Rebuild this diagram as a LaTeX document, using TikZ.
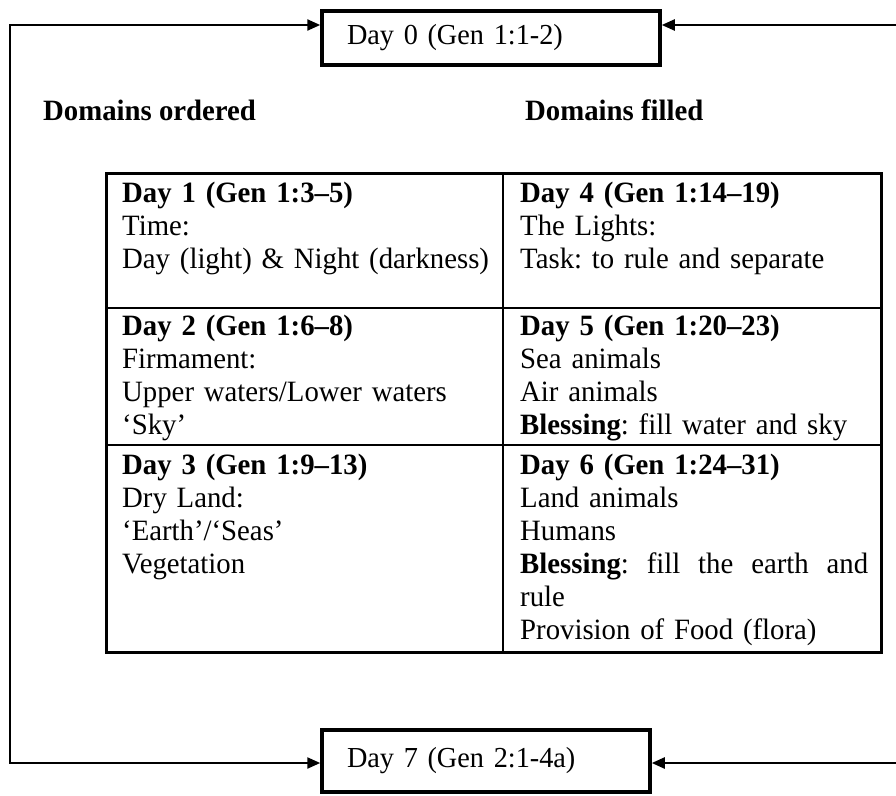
\documentclass[tikz,border=0pt]{standalone}
\usepackage{fontspec}
\setmainfont{Liberation Serif}[FakeStretch=0.975]
\usetikzlibrary{arrows.meta}
\frenchspacing
\begin{document}
\begin{tikzpicture}[x=1pt,y=-1pt,
  daybox/.style={draw, line width=3.5pt, inner xsep=25pt, inner ysep=0pt, align=left,
                 font=\fontsize{29}{30}\selectfont},
  conn/.style={line width=2.3pt},
  tip/.tip={Triangle[length=13pt,width=11pt]},
  celltext/.style={anchor=base west, align=left, inner sep=0pt,
                   font=\frenchspacing\fontsize{29.5}{33}\selectfont},
  heading/.style={anchor=base west, inner sep=0pt, font=\bfseries\fontsize{29.5}{32}\selectfont}]
\useasboundingbox (0,0) rectangle (896,795);

% day boxes
\node[daybox, text width=288pt, minimum height=54pt] (day0) at (491,38) {Day 0 (Gen 1:1-2)};
\node[daybox, text width=278pt, minimum height=62pt] (day7) at (486,761) {Day 7 (Gen 2:1-4a)};

% connectors
\coordinate (tl) at (10,25);
\coordinate (bl) at (10,763);
\coordinate (tr) at (896,25);
\coordinate (br) at (896,763);
\draw[conn, tip-tip] (day0.west |- tl) -- (tl) -- (bl) -- (day7.west |- bl);
\draw[conn, -tip] (tr) -- (day0.east |- tr);
\draw[conn, -tip] (br) -- (day7.east |- br);

% headings
\node[heading] (ord) at (43,120) {Domains ordered};
\node[heading] (fill) at (525,120) {Domains filled};

% table
\draw[line width=3pt] (106,173) rectangle (881,652);
\draw[line width=2.2pt] (503,173) -- (503,652);
\draw[line width=2.2pt] (106,308) -- (881,308);
\draw[line width=2.2pt] (106,445) -- (881,445);

\node[celltext, text width=375pt] (c1) at (122,202) {\textbf{Day 1 (Gen 1:3--5)}\\Time:\\Day (light) \& Night (darkness)};
\node[celltext, text width=375pt] (c2) at (122,335) {\textbf{Day 2 (Gen 1:6--8)}\\Firmament:\\Upper waters/Lower waters\\‘Sky’};
\node[celltext, text width=375pt] (c3) at (122,474) {\textbf{Day 3 (Gen 1:9--13)}\\Dry Land:\\‘Earth’/‘Seas’\\Vegetation};
\node[celltext, text width=358pt] (c4) at (520,202) {\textbf{Day 4 (Gen 1:14--19)}\\The Lights:\\Task: to rule and separate};
\node[celltext, text width=358pt] (c5) at (520,335) {\textbf{Day 5 (Gen 1:20--23)}\\Sea animals\\Air animals\\\textbf{Blessing}: fill water and sky};
\node[celltext, text width=358pt] (c6) at (520,474) {\textbf{Day 6 (Gen 1:24--31)}\\Land animals\\Humans\\\makebox[348pt][l]{\textbf{Blessing}:\hfill fill\hfill the\hfill earth\hfill and}\\rule\\Provision of Food (flora)};
\end{tikzpicture}
\end{document}
